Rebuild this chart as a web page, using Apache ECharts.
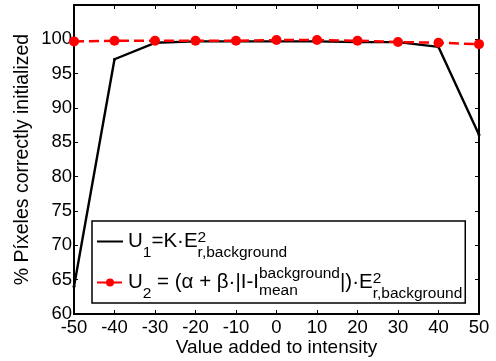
<!DOCTYPE html>
<html>
<head>
<meta charset="utf-8">
<script src="https://cdn.jsdelivr.net/npm/echarts@6/dist/echarts.min.js"></script>
<style>html,body{margin:0;padding:0;background:#fff;}#c{width:496px;height:361px;}</style>
</head>
<body>
<div id="c"></div>
<script>
var xValues = [-50, -40, -30, -20, -10, 0, 10, 20, 30, 40, 50];
var u1Values = [64.0, 97.1, 99.5, 99.7, 99.7, 99.7, 99.7, 99.6, 99.6, 98.9, 86.1];
var u2Values = [99.7, 99.8, 99.8, 99.8, 99.8, 99.9, 99.9, 99.8, 99.6, 99.5, 99.3];
var seriesNames = ['U1', 'U2'];
var xTicks = { min: -50, max: 50, interval: 10 };
var yTicks = { min: 60, max: 105, interval: 5, lastLabel: 100 };

function pairs(xs, ys) { return xs.map(function (x, i) { return [x, ys[i]]; }); }

var FONT = 'Liberation Sans, Arial, sans-serif';
var legendText = {
  U1: '{m|U}{sb|1}{m|=K·E}{sp0|2}{sb|r,background}',
  U2: '{m|U}{sb|2}{m| = (α + β·|I-I}{sm0|mean}{spb|background}{m||)·E}{sp0|2}{sb|r,background}'
};

var chart = echarts.init(document.getElementById('c'), null, { renderer: 'canvas' });
chart.setOption({
  animation: false,
  textStyle: { fontFamily: FONT },
  grid: { left: 74, right: 17, top: 5, bottom: 47, containLabel: false, outerBoundsMode: 'none',
    show: true, borderColor: '#000', borderWidth: 2, backgroundColor: 'transparent' },
  xAxis: [{
    type: 'value', min: xTicks.min, max: xTicks.max, interval: xTicks.interval,
    name: 'Value added to intensity', nameLocation: 'middle', nameGap: 24, nameMoveOverlap: false,
    nameTextStyle: { fontSize: 19, color: '#000', fontFamily: FONT },
    axisLine: { show: true, onZero: false, lineStyle: { color: '#000', width: 2 } },
    axisTick: { show: true, inside: true, length: 4, lineStyle: { color: '#000', width: 1 } },
    axisLabel: { fontSize: 18.5, color: '#000', margin: 4, fontFamily: FONT },
    splitLine: { show: false }
  }, {
    type: 'value', position: 'top', min: xTicks.min, max: xTicks.max, interval: xTicks.interval,
    axisLine: { show: false, onZero: false }, axisTick: { show: true, inside: true, length: 4, lineStyle: { color: '#000' } },
    axisLabel: { show: false }, splitLine: { show: false }
  }],
  yAxis: [{
    type: 'value', min: yTicks.min, max: yTicks.max, interval: yTicks.interval,
    name: '% Píxeles correctly initialized', nameLocation: 'middle', nameGap: 41, nameMoveOverlap: false,
    nameTextStyle: { fontSize: 19.5, color: '#000', fontFamily: FONT },
    axisLine: { show: true, onZero: false, lineStyle: { color: '#000', width: 2 } },
    axisTick: { show: true, inside: true, length: 4, lineStyle: { color: '#000', width: 1 } },
    axisLabel: { fontSize: 18.5, color: '#000', margin: 2, fontFamily: FONT,
      formatter: function (v) { return v > yTicks.lastLabel ? '' : String(v); } },
    splitLine: { show: false }
  }, {
    type: 'value', position: 'right', min: yTicks.min, max: yTicks.max, interval: yTicks.interval,
    axisLine: { show: false, onZero: false }, axisTick: { show: true, inside: true, length: 4, lineStyle: { color: '#000' } },
    axisLabel: { show: false }, splitLine: { show: false }
  }],
  legend: {
    orient: 'vertical', left: 92, top: 221,
    backgroundColor: '#fff', borderColor: '#000', borderWidth: 1.5,
    padding: [0, 3, 0, 4], itemGap: 0, itemWidth: 26, itemHeight: 10,
    data: [{ name: seriesNames[0], itemStyle: { opacity: 0 } }, { name: seriesNames[1] }],
    formatter: function (name) { return legendText[name]; },
    textStyle: {
      color: '#000', fontFamily: FONT,
      rich: {
        m: { fontSize: 20.5, lineHeight: 41, verticalAlign: 'middle', fontFamily: FONT, color: '#000' },
        sb: { fontSize: 15.5, lineHeight: 15, verticalAlign: 'bottom', padding: [0, 0, 1, 0], fontFamily: FONT, color: '#000' },
        sm0: { fontSize: 15.5, lineHeight: 15, verticalAlign: 'bottom', padding: [0, 0, 4, 0], width: 0, fontFamily: FONT, color: '#000' },
        sp0: { fontSize: 15.5, lineHeight: 15, verticalAlign: 'top', padding: [9, 0, 0, 0], width: 0, fontFamily: FONT, color: '#000' },
        spb: { fontSize: 15.5, lineHeight: 15, verticalAlign: 'top', padding: [4, 0, 0, 0], fontFamily: FONT, color: '#000' }
      }
    }
  },
  series: [{
    name: seriesNames[0], type: 'line', data: pairs(xValues, u1Values),
    symbol: 'circle', symbolSize: 3, showSymbol: true,
    lineStyle: { color: '#000', width: 2.4 }, itemStyle: { color: '#000' }, z: 2
  }, {
    name: seriesNames[1], type: 'line', data: pairs(xValues, u2Values),
    symbol: 'circle', symbolSize: 10, showSymbol: true,
    lineStyle: { color: '#ff0000', width: 2.5, type: [10, 5] }, itemStyle: { color: '#ff0000' }, z: 3
  }]
});
</script>
</body>
</html>
